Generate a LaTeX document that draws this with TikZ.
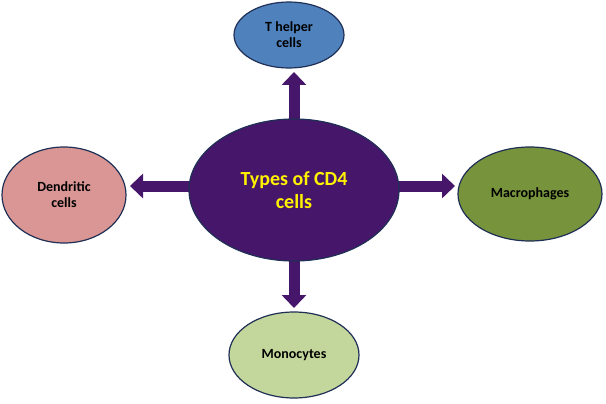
\documentclass[tikz,border=0pt]{standalone}
\usepackage{fontspec}
\setmainfont{Carlito}
\usetikzlibrary{arrows.meta,shapes.geometric}
\definecolor{cpurple}{HTML}{46166B}
\definecolor{cblue}{HTML}{4F81BD}
\definecolor{cpink}{HTML}{D99694}
\definecolor{cgreen}{HTML}{77933C}
\definecolor{clight}{HTML}{C3D69B}
\definecolor{cedge}{HTML}{1F2F55}
\begin{document}
\begin{tikzpicture}[x=1pt,y=-1pt,
  cell/.style={ellipse,draw=cedge,line width=1.2pt,inner sep=0pt,align=center,font=\bfseries\fontsize{14}{16}\selectfont},
  blk/.style={draw=cpurple,line width=11pt,-{Triangle[width=24pt,length=13pt]}}]
\useasboundingbox (0,0) rectangle (606,404);
\coordinate (ta) at (294,72); \coordinate (la) at (130,186);
\coordinate (ra) at (455,186); \coordinate (ba) at (294,308);
\coordinate (ts) at (294,130); \coordinate (ls) at (200,186);
\coordinate (rs) at (388,186); \coordinate (bs) at (294,250);
\draw[blk] (ts) -- (ta);
\draw[blk] (ls) -- (la);
\draw[blk] (rs) -- (ra);
\draw[blk] (bs) -- (ba);
\node[cell,fill=cpurple,minimum width=210pt,minimum height=142pt,text=yellow,font=\bfseries\fontsize{20}{23}\selectfont] (c) at (294,190) {Types of CD4\\cells};
\node[cell,fill=cblue,minimum width=110pt,minimum height=66pt] (t) at (289,35) {T helper\\cells};
\node[cell,fill=cpink,minimum width=124pt,minimum height=96pt] (l) at (64,195) {Dendritic\\cells};
\node[cell,fill=cgreen,minimum width=144pt,minimum height=94pt] (r) at (530,194) {Macrophages};
\node[cell,fill=clight,minimum width=130pt,minimum height=86pt] (b) at (294,355) {Monocytes};
\end{tikzpicture}
\end{document}
